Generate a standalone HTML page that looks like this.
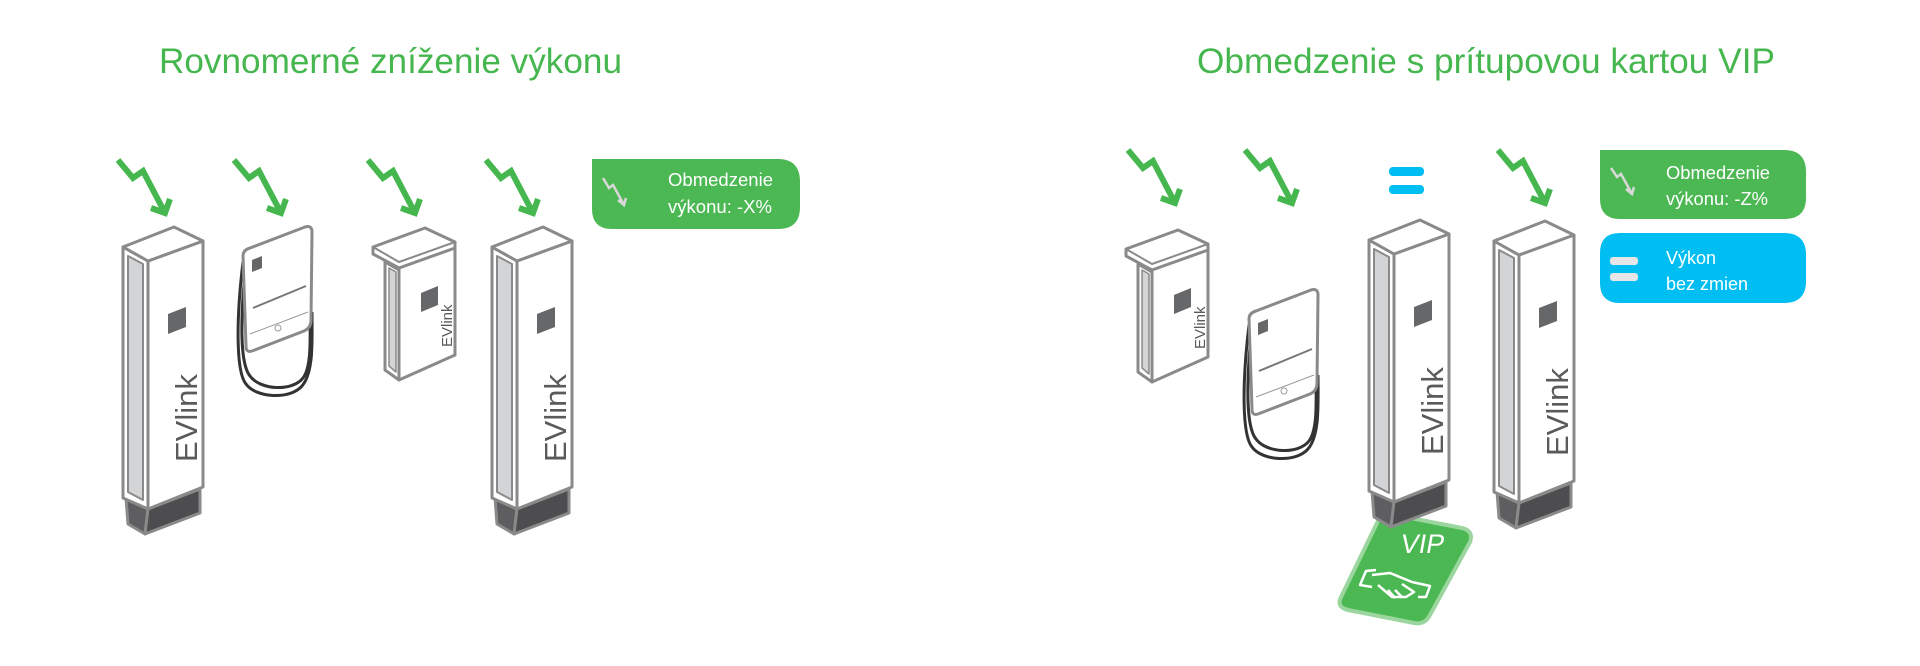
<!DOCTYPE html>
<html><head><meta charset="utf-8"><style>
html,body{margin:0;padding:0;background:#fff;width:1920px;height:666px;overflow:hidden}
svg{display:block}
text{font-family:"Liberation Sans",sans-serif}
</style></head><body>
<svg width="1920" height="666" viewBox="0 0 1920 666" xmlns="http://www.w3.org/2000/svg">
<defs>
<g id="arrow">
<polyline points="118,160 133,178 143,171 164,211" fill="none" stroke="#46b74f" stroke-width="6" stroke-linejoin="miter"/>
<polyline points="151,208 165,213 170,199" fill="none" stroke="#46b74f" stroke-width="6"/>
</g>
<g id="pillarShape" stroke="#8a8a8a" stroke-width="3" stroke-linejoin="round">
<polygon points="126,498 148,509 145,534 128,524" fill="#5e5e60"/>
<polygon points="148,509 200,489 200,513 145,534" fill="#4d4d4f"/>
<polygon points="123,247 148,261 148,509 123,498" fill="#fff"/>
<polygon points="128,256 143,264 143,500 128,492" fill="#d3d4d6" stroke-width="2"/>
<polygon points="148,261 203,241 203,487 148,509" fill="#fff"/>
<polygon points="123,247 174,227 203,241 148,261" fill="#fff"/>
<polygon points="168,314 186,307 186,327 168,334" fill="#666769" stroke="none"/>
</g>
<g id="wallbox" stroke="#8a8a8a" stroke-width="3" stroke-linejoin="round">
<polygon points="385,262 399,270 399,380 385,370" fill="#fff"/>
<polygon points="389,268 396,272 396,372 389,366" fill="#d3d4d6" stroke-width="1.5"/>
<polygon points="399,262 455,242 455,355 399,380" fill="#fff"/>
<polygon points="373,247 425,228 455,242 455,248 399,268 373,254" fill="#fff"/>
<polyline points="373,247 399,262 455,242" fill="none" stroke-width="2"/>
<polygon points="421,293 438,286 438,305 421,312" fill="#666769" stroke="none"/>
</g>
<g id="cablebox">
<path d="M243,262 C236,320 236,372 246,384 C256,398 290,400 302,386 C314,372 312,340 312,312" fill="none" stroke="#333" stroke-width="3"/>
<path d="M246,262 C240,320 240,364 250,376 C260,390 292,392 303,378 C312,366 310,336 310,312" fill="none" stroke="#333" stroke-width="3"/>
<path d="M250,248 L305,227 Q312,225 312,232 L311,320 Q311,328 304,331 L252,351 Q246,353 246,346 L243,256 Q243,250 250,248 Z" fill="#fff" stroke="#8a8a8a" stroke-width="3"/>
<polygon points="252,260 262,256 262,268 252,272" fill="#666769"/>
<line x1="253" y1="308" x2="306" y2="286" stroke="#777" stroke-width="2"/>
<line x1="250" y1="334" x2="308" y2="312" stroke="#999" stroke-width="1"/>
<circle cx="278" cy="328" r="3" fill="none" stroke="#999" stroke-width="1"/>
</g>
</defs>

<text x="159" y="73" font-size="35" fill="#46b74f" textLength="463" lengthAdjust="spacingAndGlyphs">Rovnomerné zníženie výkonu</text>
<text x="1197" y="73" font-size="35" fill="#46b74f" textLength="578" lengthAdjust="spacingAndGlyphs">Obmedzenie s prítupovou kartou VIP</text>

<!-- left group -->
<use href="#arrow"/>
<use href="#arrow" transform="translate(116,0)"/>
<use href="#arrow" transform="translate(250,0)"/>
<use href="#arrow" transform="translate(368,0)"/>

<use href="#pillarShape"/>
<text transform="translate(197,462) rotate(-90)" font-size="31" fill="#5a5a5c">EVlink</text>
<use href="#cablebox"/>
<use href="#wallbox"/>
<text transform="translate(452,347) rotate(-90)" font-size="15" fill="#5a5a5c">EVlink</text>
<use href="#pillarShape" transform="translate(369,0)"/>
<text transform="translate(566,462) rotate(-90)" font-size="31" fill="#5a5a5c">EVlink</text>

<path d="M592,159 L778,159 Q800,159 800,182 L800,207 Q800,229 778,229 L612,229 Q592,229 592,209 Z" fill="#4cb853"/>
<polyline points="603,178 609,188 613,185 623,203" fill="none" stroke="#d8d8d8" stroke-width="2.5"/>
<polyline points="618,200 624,205 626,198" fill="none" stroke="#d8d8d8" stroke-width="2.5"/>
<text x="668" y="186" font-size="18" fill="#fff" textLength="105" lengthAdjust="spacingAndGlyphs">Obmedzenie</text>
<text x="668" y="213" font-size="18" fill="#fff" textLength="104" lengthAdjust="spacingAndGlyphs">výkonu: -X%</text>

<!-- right group -->
<use href="#arrow" transform="translate(1010,-10)"/>
<use href="#arrow" transform="translate(1127,-10)"/>
<use href="#arrow" transform="translate(1380,-10)"/>
<rect x="1389" y="167" width="35" height="9" rx="4" fill="#00bdf2"/>
<rect x="1389" y="185" width="35" height="9" rx="4" fill="#00bdf2"/>

<use href="#wallbox" transform="translate(753,2)"/>
<text transform="translate(1205,349) rotate(-90)" font-size="15" fill="#5a5a5c">EVlink</text>
<use href="#cablebox" transform="translate(1006,63)"/>

<!-- VIP card -->
<path d="M1390,514 L1462,528 Q1474,531 1470,542 L1430,615 Q1425,625 1414,623 L1348,610 Q1336,607 1341,597 L1378,521 Q1382,512 1390,514 Z" fill="#4cb853" stroke="#9bd69e" stroke-width="4"/>
<text x="1400" y="553" font-size="27" fill="#fff" transform="skewX(-10) translate(97,0)">VIP</text>
<g fill="none" stroke="#fff" stroke-width="2.5" stroke-linejoin="round">
<path d="M1376,570 L1366,571 L1360,585 L1372,587"/>
<path d="M1372,575 L1390,573 L1412,582 L1430,586 L1426,597 L1418,597"/>
<path d="M1378,585 L1392,597 L1406,597 L1414,592 L1402,584"/>
<path d="M1388,590 L1395,598 M1395,590 L1402,597"/>
</g>

<use href="#pillarShape" transform="translate(1246,-7)"/>
<text transform="translate(1443,455) rotate(-90)" font-size="31" fill="#5a5a5c">EVlink</text>
<use href="#pillarShape" transform="translate(1371,-6)"/>
<text transform="translate(1568,456) rotate(-90)" font-size="31" fill="#5a5a5c">EVlink</text>

<path d="M1600,150 L1784,150 Q1806,150 1806,172 L1806,198 Q1806,219 1784,219 L1620,219 Q1600,219 1600,199 Z" fill="#4cb853"/>
<polyline points="1611,168 1617,177 1621,174 1631,192" fill="none" stroke="#d8d8d8" stroke-width="2.5"/>
<polyline points="1626,189 1632,194 1634,187" fill="none" stroke="#d8d8d8" stroke-width="2.5"/>
<text x="1666" y="179" font-size="18" fill="#fff" textLength="104" lengthAdjust="spacingAndGlyphs">Obmedzenie</text>
<text x="1666" y="205" font-size="18" fill="#fff" textLength="102" lengthAdjust="spacingAndGlyphs">výkonu: -Z%</text>

<path d="M1620,233 L1784,233 Q1806,233 1806,255 L1806,281 Q1806,303 1784,303 L1620,303 Q1600,303 1600,283 L1600,253 Q1600,233 1620,233 Z" fill="#00bdf2"/>
<rect x="1610" y="257" width="28" height="8" rx="3" fill="#e6e6e6"/>
<rect x="1610" y="273" width="28" height="8" rx="3" fill="#e6e6e6"/>
<text x="1666" y="264" font-size="18" fill="#fff">Výkon</text>
<text x="1666" y="290" font-size="18" fill="#fff">bez zmien</text>
</svg>
</body></html>
